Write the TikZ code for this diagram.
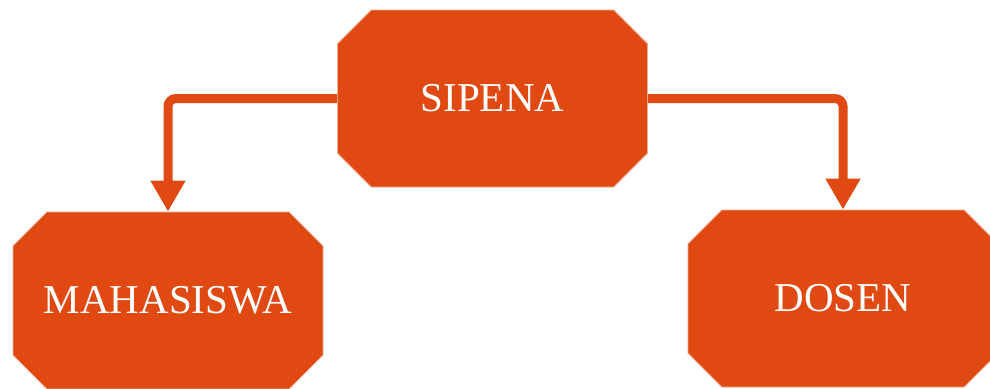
\documentclass[tikz,border=0pt]{standalone}
\usepackage{fontspec}
\setmainfont{Liberation Serif}
\usetikzlibrary{shapes.misc,arrows.meta}
\definecolor{boxorange}{RGB}{224,74,18}

\begin{document}
\begin{tikzpicture}[x=1pt, y=-1pt,
    entity/.style={chamfered rectangle, chamfered rectangle sep=20pt, fill=boxorange, draw=boxorange!45, line width=0.8pt, minimum width=310pt, minimum height=177pt, inner sep=0pt, text=white, font=\fontsize{41}{49}\selectfont},
    link/.style={draw=boxorange, line width=9pt, rounded corners=8pt, -{Triangle[width=33pt,length=31pt]}}]
  \useasboundingbox (0,0) rectangle (990,388);

  \node[entity] (sipena) at (492.5,98.5) {SIPENA};
  \node[entity] (mahasiswa) at (168,300.5) {MAHASISWA};
  \node[entity] (dosen) at (843,298.5) {DOSEN};

  \draw[link] (sipena.west) -| (mahasiswa.north);
  \draw[link] (sipena.east) -| (dosen.north);
\end{tikzpicture}
\end{document}
